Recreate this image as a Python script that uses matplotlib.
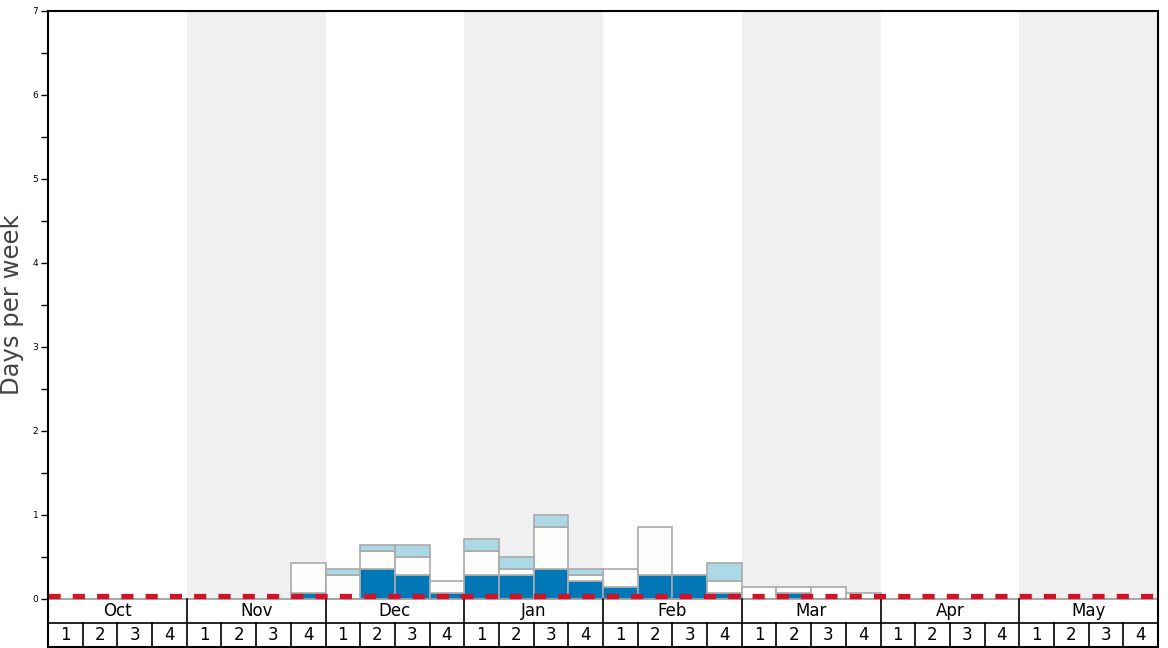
import numpy as np
import matplotlib
matplotlib.use('Agg')
import matplotlib.pyplot as plt
from matplotlib.patches import Rectangle

months = ['Oct', 'Nov', 'Dec', 'Jan', 'Feb', 'Mar', 'Apr', 'May']
weeks = ['1', '2', '3', '4']

# stacked segments per week (days per week), 32 weeks Oct..May
dark = [0, 0, 0, 0,  0, 0, 0, 1/14,  0, 5/14, 4/14, 1/14,  4/14, 4/14, 5/14, 3/14,
        2/14, 4/14, 4/14, 1/14,  0, 1/14, 0, 0,  0, 0, 0, 0,  0, 0, 0, 0]
white = [0, 0, 0, 0,  0, 0, 0, 5/14,  4/14, 3/14, 3/14, 2/14,  4/14, 1/14, 7/14, 1/14,
         3/14, 8/14, 0, 2/14,  2/14, 1/14, 2/14, 1/14,  0, 0, 0, 0,  0, 0, 0, 0]
light = [0, 0, 0, 0,  0, 0, 0, 0,  1/14, 1/14, 2/14, 0,  2/14, 2/14, 2/14, 1/14,
         0, 0, 0, 3/14,  0, 0, 0, 0,  0, 0, 0, 0,  0, 0, 0, 0]
threshold = 0.035

row_h = 4 / 14
fig = plt.figure(figsize=(11.68, 6.48), dpi=100)
ax = fig.add_axes([48 / 1168, 1 - 646.5 / 648, 1110 / 1168, 636 / 648])
n = len(dark)
ax.set_xlim(0, n)
ax.set_ylim(-2 * row_h, 7)

# alternating month bands
for m in range(len(months)):
    if m % 2 == 1:
        ax.add_patch(Rectangle((m * 4, 0), 4, 7, color='#f0f0f0', lw=0, zorder=0))

x = np.arange(n)
d = np.array(dark); w = np.array(white); l = np.array(light)
for vals, base, col in [(d, 0, '#0077b6'), (w, d, '#fdfdfb'), (l, d + w, '#add8e6')]:
    mask = vals > 0
    ax.bar(x[mask], vals[mask], width=1, bottom=(base[mask] if np.ndim(base) else 0),
           align='edge', color=col, edgecolor='#aaaaaa', linewidth=1.2, zorder=2)

# month / week table below the axis
ax.add_patch(Rectangle((0, -2 * row_h), n, 2 * row_h, facecolor='white', lw=0, zorder=4))
ax.plot([0, n], [0, 0], color='#999999', lw=1.2, zorder=4.5)
ax.plot([0, n], [-row_h, -row_h], color='black', lw=1.2, zorder=4.5)
for m, name in enumerate(months):
    ax.plot([m * 4, m * 4], [0, -2 * row_h], color='black', lw=1.2, zorder=4.5)
    ax.text(m * 4 + 2, -row_h / 2, name, ha='center', va='center', fontsize=12, zorder=5)
    for k, wk in enumerate(weeks):
        if k > 0:
            ax.plot([m * 4 + k] * 2, [-row_h, -2 * row_h], color='black', lw=1.2, zorder=4.5)
        ax.text(m * 4 + k + 0.5, -1.5 * row_h, wk, ha='center', va='center',
                fontsize=12, zorder=5)

ax.plot([0, n], [threshold, threshold], color='#d3122a', lw=3.8,
        ls=(0, (2.3, 2.3)), zorder=5, dash_capstyle='butt')

ax.set_xticks([])
ax.set_yticks(range(8))
ax.set_yticks(np.arange(0.5, 7, 1), minor=True)
ax.tick_params(axis='y', labelsize=6.5, length=5, width=1, pad=2)
ax.tick_params(axis='y', which='minor', length=5, width=1)
for s in ax.spines.values():
    s.set_linewidth(1.5)
    s.set_zorder(6)

fig.text(12 / 1168, 1 - 305 / 648, 'Days per week', rotation=90, ha='center',
         va='center', fontsize=17.5, color='#444444')

fig.savefig('out.png', dpi=100)
